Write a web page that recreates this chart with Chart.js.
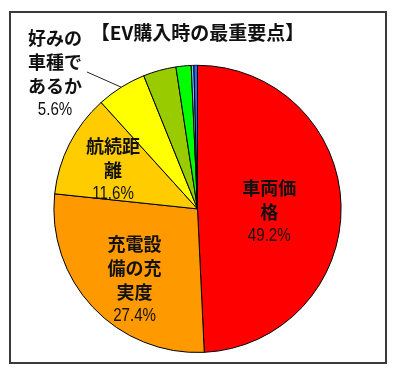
<!DOCTYPE html>
<html>
<head>
<meta charset="utf-8">
<script src="https://cdn.jsdelivr.net/npm/chart.js@4"></script>
<style>
  html, body { margin: 0; padding: 0; background: #fff; }
  #wrap { position: relative; width: 397px; height: 373px; }
  #frame { position: absolute; left: 9px; top: 11px; width: 374px; height: 349px; border: 2px solid #3a3a3a; }
  #pie { position: absolute; left: 0; top: 0; }
</style>
</head>
<body>
<div id="wrap">
  <div id="frame"></div>
  <canvas id="pie" width="397" height="373"></canvas>
</div>
<script>
const chartTitle = "【EV購入時の最重要点】";
const categories = ["車両価格", "充電設備の充実度", "航続距離", "好みの車種であるか", "その他1", "その他2", "その他3", "その他4"];
const shares = [49.2, 27.4, 11.6, 5.6, 3.7, 1.7, 0.3, 0.4];
const sliceColors = ["#ff0000", "#ff9900", "#ffcc00", "#ffff00", "#99cc00", "#00ff00", "#66ccff", "#3366ff"];
// label text broken the way the original wraps it
const labelLines = [
  ["車両価", "格"],
  ["充電設", "備の充", "実度"],
  ["航続距", "離"],
  ["好みの", "車種で", "あるか"],
];

const JP_FONT = "bold 18px 'Noto Sans CJK JP', sans-serif";
const NUM_FONT = "18px 'Liberation Sans', Arial, sans-serif";

function drawBlock(ctx, lines, pct, x, y) {
  const step = 24;
  const total = lines.length + 1;
  let top = y - ((total - 1) * step) / 2;
  ctx.fillStyle = "#111";
  ctx.textAlign = "center";
  ctx.textBaseline = "middle";
  lines.forEach((line, i) => {
    ctx.font = JP_FONT;
    ctx.fillText(line, x, top + i * step);
  });
  ctx.font = NUM_FONT;
  ctx.save();
  ctx.translate(x, top + lines.length * step);
  ctx.scale(0.84, 1);
  ctx.fillText(pct, 0, 0);
  ctx.restore();
}

const sliceLabels = {
  id: "sliceLabels",
  afterDatasetsDraw(chart, args, opts) {
    const ctx = chart.ctx;
    const arcs = chart.getDatasetMeta(0).data;
    const values = chart.data.datasets[0].data;
    ctx.save();
    opts.inside.forEach(({ index, factor, dx, dy }) => {
      const arc = arcs[index];
      const mid = (arc.startAngle + arc.endAngle) / 2;
      const r = arc.outerRadius * factor;
      const x = arc.x + Math.cos(mid) * r + dx;
      const y = arc.y + Math.sin(mid) * r + dy;
      drawBlock(ctx, labelLines[index], values[index].toFixed(1) + "%", x, y);
    });
    const out = opts.outside;
    const arc = arcs[out.index];
    const mid = (arc.startAngle + arc.endAngle) / 2;
    ctx.strokeStyle = "#222";
    ctx.lineWidth = 1;
    ctx.beginPath();
    ctx.moveTo(out.lineFrom.x, out.lineFrom.y);
    ctx.lineTo(arc.x + Math.cos(mid) * arc.outerRadius, arc.y + Math.sin(mid) * arc.outerRadius);
    ctx.stroke();
    drawBlock(ctx, labelLines[out.index], values[out.index].toFixed(1) + "%", out.x, out.y);
    ctx.restore();
  },
};

new Chart(document.getElementById("pie"), {
  type: "pie",
  data: {
    labels: categories,
    datasets: [
      {
        data: shares,
        backgroundColor: sliceColors,
        borderColor: "#000",
        borderWidth: 1,
      },
    ],
  },
  options: {
    responsive: false,
    animation: false,
    layout: { padding: { left: 53, right: 55, top: 12, bottom: 20 } },
    plugins: {
      legend: { display: false },
      tooltip: { enabled: false },
      title: {
        display: true,
        text: chartTitle,
        color: "#111",
        font: { family: "'Noto Sans CJK JP', sans-serif", size: 19, weight: "bold" },
        padding: { top: 9, bottom: 21 },
      },
      sliceLabels: {
        inside: [
          { index: 0, factor: 0.5, dx: 0, dy: 5 },
          { index: 1, factor: 0.66, dx: 6, dy: 6 },
          { index: 2, factor: 0.66, dx: 0, dy: 4 },
        ],
        outside: { index: 3, x: 55, y: 74, lineFrom: { x: 87, y: 72 } },
      },
    },
  },
  plugins: [sliceLabels],
});
</script>
</body>
</html>
